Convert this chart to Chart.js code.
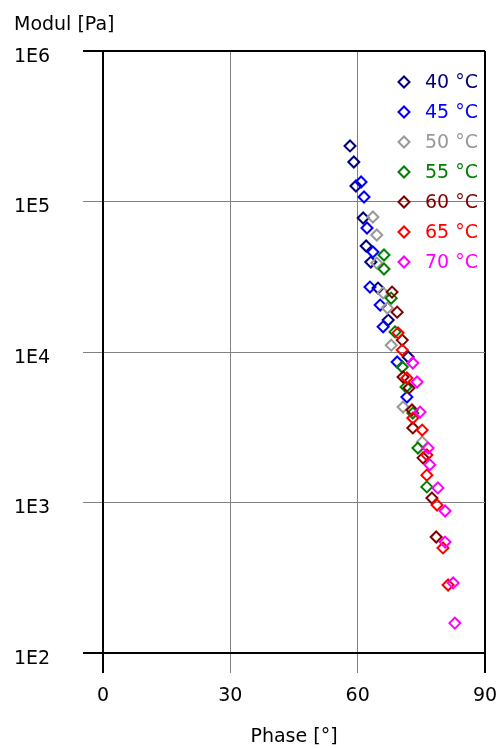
<!DOCTYPE html>
<html>
<head>
<meta charset="utf-8">
<script src="https://cdn.jsdelivr.net/npm/chart.js@4/dist/chart.umd.min.js"></script>
<style>
  body { margin: 0; background: #fff; }
  canvas { display: block; }
</style>
</head>
<body>
<canvas id="rheo" width="500" height="749"></canvas>
<script>
// series labels + colours
const temps = ['40 °C', '45 °C', '50 °C', '55 °C', '60 °C', '65 °C', '70 °C'];
const colors = ['#000080', '#0000ff', '#999999', '#008000', '#800000', '#ff0000', '#ff00ff'];

// phase [°] / modul [Pa]
const phase40 = [58.2, 59.1, 59.6, 61.3, 62.0, 63.1, 64.8, 67.2, 71.9];
const modul40 = [234000, 183000, 126800, 77700, 50600, 39600, 26600, 16300, 9260];

const phase45 = [60.8, 61.5, 62.2, 63.6, 62.9, 65.3, 66.0, 69.3, 71.6];
const modul45 = [134800, 107100, 66700, 46200, 27000, 20500, 14700, 8580, 5020];

const phase50 = [63.6, 64.5, 64.5, 66.0, 67.0, 67.9, 70.7, 75.2];
const modul50 = [78900, 59900, 39000, 24700, 19600, 11100, 4310, 2520];

const phase55 = [66.2, 66.2, 67.9, 68.8, 70.5, 71.4, 73.0, 74.2, 76.3];
const modul55 = [44100, 35600, 22800, 13600, 7950, 5850, 3930, 2300, 1270];

const phase60 = [68.1, 69.3, 70.5, 70.7, 72.1, 72.8, 73.0, 75.4, 77.5, 78.5];
const modul60 = [25000, 18400, 12000, 6820, 5770, 4120, 3130, 1980, 1070, 590];

const phase65 = [69.5, 70.5, 71.6, 73.0, 75.2, 76.3, 76.3, 78.7, 80.1, 81.3];
const modul65 = [13400, 10300, 6720, 3640, 3030, 2070, 1520, 963, 499, 283];

const phase70 = [73.0, 74.0, 74.7, 76.6, 77.0, 78.9, 80.6, 80.6, 82.5, 82.9];
const modul70 = [8450, 6320, 3990, 2300, 1780, 1250, 878, 546, 292, 158];

const phases = [phase40, phase45, phase50, phase55, phase60, phase65, phase70];
const moduls = [modul40, modul45, modul50, modul55, modul60, modul65, modul70];

// axis ticks
const xTicks = [0, 30, 60, 90];
const yTickValues = [100, 1000, 10000, 100000, 1000000];
const yTickLabels = ['1E2', '1E3', '1E4', '1E5', '1E6'];

Chart.defaults.font.family = '"DejaVu Sans", sans-serif';
Chart.defaults.font.size = 19;
Chart.defaults.color = '#000';

const datasets = temps.map((t, i) => ({
  label: t,
  data: phases[i].map((x, j) => ({ x: x, y: moduls[i][j] })),
  borderColor: colors[i],
  backgroundColor: 'rgba(0,0,0,0)',
  pointStyle: 'rectRot',
  pointRadius: 5.5,
  borderWidth: 2,
  showLine: false,
  order: temps.length - i
}));

// legend sits inside the plot, top right, no box
const innerLegend = {
  id: 'innerLegend',
  afterDatasetsDraw(chart) {
    const ctx = chart.ctx;
    ctx.save();
    ctx.font = '19px "DejaVu Sans", sans-serif';
    ctx.textBaseline = 'middle';
    ctx.textAlign = 'left';
    chart.data.datasets.forEach((ds, i) => {
      const y = 82 + i * 30;
      ctx.strokeStyle = ds.borderColor;
      ctx.fillStyle = 'rgba(0,0,0,0)';
      ctx.lineWidth = 2;
      Chart.helpers.drawPoint(ctx, { pointStyle: 'rectRot', radius: 5.5, borderWidth: 2, rotation: 0 }, 404, y);
      ctx.fillStyle = ds.borderColor;
      ctx.fillText(ds.label, 425, y + 1);
    });
    ctx.restore();
  }
};

function edgeColor(isEdge) { return isEdge ? '#000' : '#808080'; }

new Chart(document.getElementById('rheo'), {
  type: 'scatter',
  data: { datasets: datasets },
  options: {
    responsive: false,
    animation: false,
    events: [],
    layout: { padding: { left: 14, right: 15, top: 0, bottom: 0 } },
    plugins: {
      legend: { display: false },
      tooltip: { enabled: false },
      title: {
        display: true,
        text: 'Modul [Pa]',
        align: 'start',
        color: '#000',
        font: { size: 19, weight: 'normal' },
        padding: { top: 13.4, bottom: 14.8 }
      }
    },
    scales: {
      x: {
        type: 'linear',
        min: 0,
        max: 90,
        afterBuildTicks: (s) => { s.ticks = xTicks.map(v => ({ value: v })); },
        afterFit: (s) => { s.paddingLeft = 0; s.paddingRight = 0; },
        ticks: { padding: 11.6, maxRotation: 0 },
        grid: {
          color: (c) => edgeColor(c.tick && (c.tick.value === 0 || c.tick.value === 90)),
          lineWidth: (c) => (c.tick && (c.tick.value === 0 || c.tick.value === 90)) ? 2 : 1,
          tickLength: 20
        },
        border: { color: '#000', width: 2 },
        title: {
          display: true,
          text: 'Phase [°]',
          color: '#000',
          font: { size: 19 },
          padding: { top: 6.6, bottom: 0.6 }
        }
      },
      y: {
        type: 'logarithmic',
        min: 100,
        max: 1000000,
        afterBuildTicks: (s) => { s.ticks = yTickValues.map(v => ({ value: v })); },
        afterFit: (s) => { s.width = 89; },
        ticks: {
          crossAlign: 'far',
          labelOffset: 6,
          callback: (v) => yTickLabels[yTickValues.indexOf(v)]
        },
        grid: {
          color: (c) => edgeColor(c.tick && (c.tick.value === 100 || c.tick.value === 1000000)),
          lineWidth: (c) => (c.tick && (c.tick.value === 100 || c.tick.value === 1000000)) ? 2 : 1,
          tickLength: 20
        },
        border: { color: '#000', width: 2 }
      }
    }
  },
  plugins: [innerLegend]
});
</script>
</body>
</html>
